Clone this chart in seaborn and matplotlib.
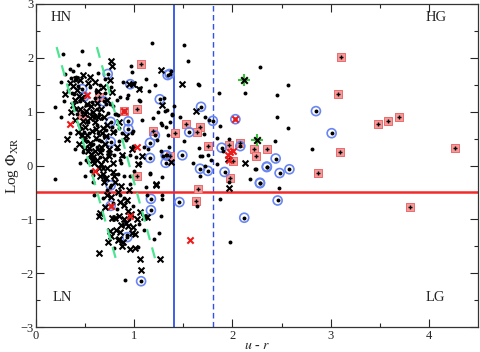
import matplotlib
matplotlib.use("Agg")
import matplotlib.pyplot as plt
import seaborn as sns

# ---------------- data (u-r, Log Phi_XR) ----------------
dot_x = [0.19,0.27,0.47,0.35,0.43,0.54,0.40,1.18,1.51,0.98,1.00,0.86,0.94,0.82,0.83,1.06,1.05,1.15,1.19,1.30,
         1.31,1.34,1.27,1.38,1.37,1.23,1.27,1.29,1.47,1.51,1.66,1.66,1.67,1.72,1.84,1.86,1.90,0.98,0.99,0.92,
         0.89,0.82,0.87,1.06,0.89,0.93,1.06,1.33,1.38,0.96,1.02,1.16,0.96,1.28,1.28,1.32,1.36,0.99,
         2.28,2.57,2.13,2.45,2.45,2.57,2.43,2.81,2.24,1.65,1.76,1.87,1.71,1.97,1.69,1.78,1.72,1.84,2.23,
         2.18,1.97,1.87,2.47,1.67,1.98,1.64,
         0.19,0.90,1.16,0.59,0.86,1.13,1.28,1.28,0.99,1.05,1.27,0.79,1.20,1.25,1.04,0.91,
         0.30,0.33,0.28,0.25,0.38,0.45,0.50,0.55,0.60,0.65,0.70,0.42,0.46,0.52,0.48,0.58,0.63,0.67,0.73,0.78,
         0.55,0.62,0.68,0.73,0.80,0.85,0.75,0.82,0.90,0.96,1.00,1.10,1.12,0.68,0.95,1.10,0.35,0.40,0.25,0.45,
         0.50,0.58,0.62,0.72,0.86,0.36,0.41,0.57,0.64,0.71,0.77,0.53,0.49,0.61,0.66,0.74,0.69,0.59,0.44,0.39,
         0.81,0.84,0.88,0.79,0.56,0.51,0.63,0.70,0.76,1.08,1.12,1.21,1.14,0.97,1.24,1.35,1.40,1.55,1.60,1.75,
         0.37,0.43,0.47,0.52,0.57,0.62,0.66,0.71,0.54,0.60,0.65,0.70,0.48,0.53,0.58,0.64,0.69,0.75,0.80,0.41,
         0.46,0.51,0.56,0.61,0.67,0.72,0.78,0.83,0.88,0.93]
dot_y = [1.09,2.07,2.12,1.80,1.86,1.88,1.59,2.27,2.23,1.74,1.54,1.28,1.31,1.22,0.94,1.44,1.22,1.38,0.88,1.25,
         1.01,0.57,0.79,0.94,1.75,0.48,0.27,0.17,0.91,0.45,1.50,0.33,0.17,0.90,0.51,1.35,0.27,0.60,0.36,0.48,
         0.17,0.30,0.05,0.05,1.56,1.25,1.20,1.04,0.96,0.20,0.16,-0.14,-0.20,-0.21,0.76,0.72,0.80,0.65,
         1.83,1.49,1.35,1.31,0.91,0.69,0.46,0.31,-0.06,1.51,0.85,0.74,0.59,0.50,0.17,0.10,0.00,0.02,-0.06,
         -0.26,-0.31,-0.63,-0.41,-0.19,-1.42,-0.75,
         -0.25,-0.20,-0.15,-0.55,-0.55,-0.54,-0.54,-0.63,-0.75,-1.09,-0.94,-1.54,-1.37,-1.26,-1.51,-2.13,
         1.70,1.40,1.20,1.55,1.75,1.20,1.30,1.45,1.25,1.50,1.35,0.95,0.70,0.45,0.35,0.40,0.60,0.88,0.98,1.10,
         0.15,0.35,-0.05,0.20,0.65,0.45,-0.40,-0.80,-0.60,-0.35,-0.10,0.35,-0.40,-0.60,-1.00,-1.20,0.60,0.30,0.90,0.05,
         -0.20,-0.30,0.75,0.55,0.10,1.62,1.05,1.00,0.95,1.15,0.72,0.80,0.62,0.50,0.30,0.25,-0.20,0.90,0.75,1.32,
         0.95,0.70,0.60,0.20,-0.10,0.10,1.72,1.60,1.45,0.85,1.60,1.50,0.30,1.85,1.00,0.35,1.10,1.95,0.05,0.20,
         1.35,1.48,1.00,0.82,1.18,1.05,0.45,0.66,0.60,0.92,0.15,-0.25,0.25,0.07,-0.18,0.48,0.55,1.15,0.95,1.65,
         0.58,1.12,0.38,1.38,0.28,-0.45,-0.70,-0.15,-1.10,-1.30]

xm_x = [0.48,0.55,0.53,0.35,0.38,0.45,0.76,0.77,0.75,0.77,0.95,1.05,1.27,1.49,1.28,1.63,0.99,
        0.42,0.44,0.40,0.52,0.56,0.62,0.58,0.45,0.38,0.50,0.66,0.72,0.63,0.68,0.60,0.30,0.36,
        0.32,0.47,0.52,0.57,0.61,0.53,0.56,0.60,0.65,0.44,0.50,0.60,0.68,0.72,0.78,0.70,0.74,0.82,0.62,0.66,
        0.70,0.92,0.98,0.88,1.04,1.08,1.37,1.22,0.78,0.40,0.48,0.55,0.85,
        0.65,0.71,0.68,0.80,0.87,1.22,0.72,0.76,0.86,0.90,0.94,1.06,1.13,1.10,0.85,0.77,0.65,0.64,0.80,
        0.75,0.76,0.81,0.84,0.86,0.89,0.98,1.01,0.94,0.92,1.01,0.96,0.73,0.64,1.06,1.07,1.26,0.88,0.83,
        0.70,0.95,0.78,0.90,0.97,1.97,1.95,2.13,0.43,0.49,0.58,0.64,0.54,0.59,0.69,0.74,
        0.46,0.51,0.57,0.63,0.67,0.41,0.55,0.61,0.71,0.66,0.58,0.50,0.72,0.79,0.83,0.69,0.93,0.99,1.03,0.87]
xm_y = [1.69,1.64,1.54,1.53,1.48,1.58,1.95,1.84,1.59,1.36,1.52,1.43,1.78,1.52,1.13,1.02,1.51,
        1.40,1.30,1.22,1.14,1.10,1.16,1.00,1.05,1.12,0.95,1.05,1.22,1.38,1.45,1.55,1.33,1.00,
        0.49,0.57,0.56,0.64,0.52,0.27,0.22,0.27,0.25,0.40,0.72,0.80,0.70,0.75,0.62,0.40,0.30,0.35,0.10,0.02,
        0.12,0.54,0.31,0.20,0.02,0.17,0.07,-0.34,0.05,0.85,0.82,0.88,0.80,
        -0.19,-0.23,-0.15,-0.31,-0.39,-0.36,-0.54,-0.58,-0.67,-0.73,-0.85,-0.86,-0.96,-0.95,-0.94,-0.97,-0.89,-0.93,-0.98,
        -1.21,-1.31,-1.20,-1.37,-1.23,-1.43,-1.25,-1.28,-1.12,-1.06,-1.54,-1.56,-1.42,-1.63,-1.74,-1.94,-1.74,-1.49,-1.38,
        -0.78,-0.45,-0.12,-1.00,-0.90,-0.41,0.12,0.05,0.62,0.48,0.15,-0.05,0.32,0.05,0.90,0.18,
        1.25,1.02,0.92,0.90,0.60,1.60,0.42,0.68,0.55,0.35,0.10,0.33,-0.05,-0.20,-0.50,-0.30,-0.65,-1.15,-1.00,-1.10]

bc_x = [0.73,0.96,0.47,0.49,0.69,0.76,0.94,0.94,0.76,1.26,1.36,1.34,1.16,1.21,1.16,1.32,1.32,1.49,1.56,1.68,
        1.80,1.67,1.75,1.92,1.89,2.08,2.35,2.28,2.44,2.35,2.48,2.58,2.28,2.46,2.12,2.85,3.01,1.46,1.17,1.17,
        0.76,1.07,1.33,0.93,2.03,0.76]
bc_y = [1.70,1.51,1.42,1.28,1.19,0.81,0.82,0.68,0.44,1.23,1.70,1.68,0.42,0.56,0.14,0.19,0.05,0.19,0.62,1.09,
        0.83,-0.06,-0.10,-0.12,0.33,0.36,-0.02,-0.32,0.13,-0.03,-0.14,-0.07,-0.33,-0.65,-0.97,1.01,0.60,-0.68,-0.62,-0.83,
        -0.37,-2.15,0.19,-1.33,0.86,-0.75]

rs_x = [1.07,0.64,0.90,1.03,1.19,1.42,1.53,1.67,1.75,1.96,2.08,2.01,1.36,1.03,1.65,1.63,1.98,2.87,3.81,3.11,
        3.07,3.48,3.58,3.70,3.10,4.27,2.22,2.35,2.24,1.64,0.47]
rs_y = [1.89,1.28,1.01,1.05,0.64,0.60,0.77,0.72,0.37,0.39,0.42,0.08,0.17,-0.20,-0.44,-0.66,-0.24,-0.14,-0.77,2.02,
        1.32,0.78,0.83,0.90,0.25,0.33,0.31,0.30,0.17,0.62,0.94]

rx_x = [0.35,1.03,0.60,0.52,0.96,1.57,1.98,2.01,1.95,1.96,0.76,2.03,0.90]
rx_y = [0.77,0.34,-0.10,1.31,-0.94,-1.38,0.25,0.27,0.19,0.10,-0.75,0.86,1.01]

gs_x = [2.12,2.25]
gs_y = [1.59,0.47]

x_ticks = [0, 1, 2, 3, 4]
y_ticks = [-3, -2, -1, 0, 1, 2, 3]
corner_labels = ["HN", "HG", "LN", "LG"]

# ---------------- figure ----------------
sns.set_style("ticks")
plt.rcParams["font.family"] = ["Liberation Serif", "DejaVu Serif"]
plt.rcParams["mathtext.fontset"] = "stix"

fig = plt.figure(figsize=(4.8, 3.52), dpi=100)
ax = fig.add_axes([36/480, 25/352, 442/480, 323/352])

# bands and division lines
ax.plot([0.21, 0.82], [2.2, -1.78], color="#4de592", lw=1.6, ls=(0, (5, 3.5)), zorder=3.5)
ax.plot([0.62, 1.22], [2.2, -1.78], color="#4de592", lw=1.6, ls=(0, (5, 3.5)), zorder=3.5)
ax.axvline(1.4, color="#3050e8", lw=1.3, zorder=1)
ax.axvline(1.8, color="#3050e8", lw=1.0, ls=(0, (4, 2.5)), zorder=1)
ax.axhline(-0.5, color="#f22a2a", lw=1.8, zorder=1)

# markers
sns.scatterplot(x=rs_x, y=rs_y, marker="s", s=30, color="#f59a9a", edgecolor="#ec6a6a",
                linewidth=0.7, ax=ax, zorder=2)
sns.scatterplot(x=bc_x, y=bc_y, marker="o", s=42, facecolor="none", edgecolor="#6a86f2",
                linewidth=1.2, ax=ax, zorder=2)
sns.scatterplot(x=xm_x, y=xm_y, marker="x", s=18, color="black", linewidth=1.5, ax=ax, zorder=3)
sns.scatterplot(x=dot_x, y=dot_y, marker="o", s=8, color="black", linewidth=0, ax=ax, zorder=3)
sns.scatterplot(x=bc_x, y=bc_y, marker="o", s=8, color="black", linewidth=0, ax=ax, zorder=3)
sns.scatterplot(x=rs_x, y=rs_y, marker="+", s=12, color="black", linewidth=1.0, ax=ax, zorder=3)
sns.scatterplot(x=rx_x, y=rx_y, marker="x", s=20, color="#f01818", linewidth=1.5, ax=ax, zorder=4)
sns.scatterplot(x=gs_x, y=gs_y, marker="+", s=70, color="#3cc03c", linewidth=1.5, ax=ax, zorder=4)
sns.scatterplot(x=gs_x, y=gs_y, marker="x", s=22, color="black", linewidth=1.5, ax=ax, zorder=5)

ax.set_xlim(0, 4.5)
ax.set_ylim(-3, 3)
ax.set_xticks(x_ticks)
ax.set_yticks(y_ticks)
ax.set_xticks([0.5, 1.5, 2.5, 3.5], minor=True)
ax.set_yticks([-2.5, -1.5, -0.5, 0.5, 1.5, 2.5], minor=True)
ax.tick_params(which="both", direction="in", top=True, right=True, labelsize=9, width=0.8)
ax.tick_params(which="major", length=6, pad=2)
ax.tick_params(which="minor", length=3)
for s in ax.spines.values():
    s.set_linewidth(0.9)
    s.set_color("#333333")

ax.set_xlabel(r"$u$ - $r$", fontsize=10, labelpad=-2)
ax.set_ylabel(r"Log $\Phi_{\rm XR}$", fontsize=11, labelpad=-1)

pos = [(0.15, 2.62), (3.97, 2.62), (0.17, -2.58), (3.97, -2.58)]
for lab, (px, py) in zip(corner_labels, pos):
    ax.text(px, py, lab, fontsize=10.5, ha="left", va="bottom")

fig.savefig("out.png", dpi=100)
